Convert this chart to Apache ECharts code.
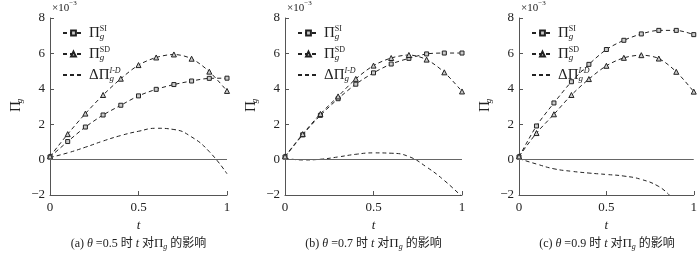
<!DOCTYPE html>
<html>
<head>
<meta charset="utf-8">
<script src="https://cdn.jsdelivr.net/npm/echarts@6/dist/echarts.min.js"></script>
<style>
html,body{margin:0;padding:0;background:#fff;}
#c{width:700px;height:255px;}
</style>
</head>
<body>
<div id="c"></div>
<script>
// ---- data (×10^-3) ----
var tVals = [0, 0.1, 0.2, 0.3, 0.4, 0.5, 0.6, 0.7, 0.8, 0.9, 1.0];
var tValsC = [0, 0.1, 0.2, 0.3, 0.4, 0.5, 0.6, 0.7, 0.8, 0.86];

var siA = [0.15, 1.02, 1.84, 2.52, 3.07, 3.60, 3.97, 4.24, 4.44, 4.59, 4.60];
var sdA = [0.18, 1.44, 2.60, 3.65, 4.57, 5.34, 5.77, 5.94, 5.70, 4.97, 3.88];
var dA  = [0.12, 0.38, 0.70, 1.05, 1.36, 1.60, 1.77, 1.70, 1.28, 0.45, -0.80];

var siB = [0.15, 1.40, 2.50, 3.44, 4.26, 4.90, 5.40, 5.72, 5.97, 6.02, 6.02];
var sdB = [0.18, 1.44, 2.58, 3.57, 4.56, 5.31, 5.74, 5.91, 5.65, 4.93, 3.85];
var dB  = [0.08, -0.02, 0.02, 0.15, 0.30, 0.38, 0.36, 0.17, -0.42, -1.18, -2.10];

var siC = [0.15, 1.90, 3.20, 4.40, 5.38, 6.22, 6.74, 7.10, 7.30, 7.30, 7.06];
var sdC = [0.18, 1.50, 2.56, 3.65, 4.55, 5.30, 5.75, 5.90, 5.71, 4.96, 3.84];
var dC  = [0.05, -0.25, -0.52, -0.66, -0.76, -0.84, -0.93, -1.12, -1.52, -2.00];

var yTicks = [-2, 0, 2, 4, 6, 8];
var xTicks = [0, 0.5, 1];
var thetas = ['0.5', '0.7', '0.9'];
var panelTags = ['(a)', '(b)', '(c)'];

// ---- layout ----
var SERIF = "'Liberation Serif','Times New Roman','Noto Sans CJK SC',serif";
var INK = '#222';
var AX = '#555';
var panels = [
  {left: 50, width: 177, si: siA, sd: sdA, d: dA, dt: tVals},
  {left: 285, width: 177, si: siB, sd: sdB, d: dB, dt: tVals},
  {left: 519, width: 176, si: siC, sd: sdC, d: dC, dt: tValsC}
];
var TOP = 18, H = 177;

function pairs(xs, ys) { return ys.map(function (v, i) { return [xs[i], v]; }); }

var rich = {
  pi: {fontFamily: SERIF, fontSize: 15, color: INK, lineHeight: 16},
  pil: {fontFamily: SERIF, fontSize: 15, color: INK, lineHeight: 16},
  sub: {fontFamily: SERIF, fontSize: 9, fontStyle: 'italic', color: INK, verticalAlign: 'bottom', lineHeight: 9, width: 0, align: 'left'},
  sup: {fontFamily: SERIF, fontSize: 8, color: INK, verticalAlign: 'top', lineHeight: 8},
  supi: {fontFamily: SERIF, fontSize: 8, fontStyle: 'italic', color: INK, verticalAlign: 'top', lineHeight: 8}
};

var legendLabels = {
  SI: '{pi|Π}{sub|g}{sup|SI}',
  SD: '{pi|Π}{sub|g}{sup|SD}',
  D: '{pil|ΔΠ}{sub|g}{supi|I-D}'
};

var grids = [], xAxes = [], yAxes = [], series = [], legends = [], graphics = [];

panels.forEach(function (p, k) {
  grids.push({left: p.left, top: TOP, width: p.width, height: H, containLabel: false});
  xAxes.push({
    type: 'value', gridIndex: k, min: 0, max: 1, interval: 0.5,
    axisLine: {onZero: false, lineStyle: {color: AX, width: 1}},
    axisTick: {inside: true, length: 4, lineStyle: {color: AX}},
    splitLine: {show: false},
    axisLabel: {fontFamily: SERIF, fontSize: 13, color: INK, margin: 6,
      formatter: function (v) { return String(v); }},
    name: 't', nameLocation: 'middle', nameGap: 18,
    nameTextStyle: {fontFamily: SERIF, fontSize: 13, fontStyle: 'italic', color: INK}
  });
  yAxes.push({
    type: 'value', gridIndex: k, min: -2, max: 8, interval: 2,
    axisLine: {show: true, onZero: false, lineStyle: {color: AX, width: 1}},
    axisTick: {show: true, inside: true, length: 4, lineStyle: {color: AX}},
    splitLine: {show: false},
    axisLabel: {fontFamily: SERIF, fontSize: 13, color: INK, margin: 5,
      formatter: function (v) { return v < 0 ? '\u2212' + Math.abs(v) : String(v); }},
    name: '{pi|Π}{sub|g}', nameLocation: 'middle', nameGap: 26, nameRotate: 90,
    nameTextStyle: {rich: rich}
  });
  var names = ['SI' + k, 'SD' + k, 'D' + k];
  var base = {type: 'line', xAxisIndex: k, yAxisIndex: k, smooth: 0.3, clip: true,
    lineStyle: {color: INK, width: 1, type: [4, 3]}, itemStyle: {color: '#ccc', borderColor: INK, borderWidth: 1},
    emphasis: {disabled: true}, animation: false};
  series.push(Object.assign({}, base, {name: names[0], data: pairs(tVals, p.si), symbol: 'rect', symbolSize: 4, z: 3,
    markLine: {silent: true, symbol: 'none', label: {show: false}, animation: false,
      lineStyle: {color: '#666', width: 1, type: 'solid'}, data: [{yAxis: 0}]}}));
  series.push(Object.assign({}, base, {name: names[1], data: pairs(tVals, p.sd), symbol: 'triangle', symbolSize: 5, z: 3}));
  series.push(Object.assign({}, base, {name: names[2], data: pairs(p.dt, p.d), symbol: 'none', showSymbol: false, smooth: 0.5}));
  legends.push({
    data: [{name: names[0]}, {name: names[1]}, {name: names[2], itemStyle: {opacity: 0}}],
    orient: 'vertical', left: p.left + 7, top: 20, itemWidth: 21, itemHeight: 6, itemGap: 5,
    selectedMode: false,
    formatter: function (n) { return legendLabels[n.replace(/\d/, '')]; },
    textStyle: {rich: rich}
  });
  graphics.push({
    type: 'text', left: p.left + 2, top: 0,
    style: {text: '{x|×10}{s|−3}', rich: {
      x: {fontFamily: SERIF, fontSize: 11, fill: INK, lineHeight: 14, verticalAlign: 'bottom'},
      s: {fontFamily: SERIF, fontSize: 7, fill: INK, verticalAlign: 'top', lineHeight: 8}
    }}
  });
  var cx = p.left + p.width / 2;
  graphics.push({
    type: 'text', x: cx, y: 244,
    style: {text: panelTags[k] + ' {i|θ} =' + thetas[k] + ' 时 {i|t} 对{p|Π}{g|g} 的影响',
      align: 'center', verticalAlign: 'middle',
      font: "12px " + SERIF, fill: INK,
      rich: {
        i: {fontFamily: SERIF, fontSize: 12, fontStyle: 'italic', fill: INK},
        p: {fontFamily: SERIF, fontSize: 13, fill: INK, lineHeight: 14},
        g: {fontFamily: SERIF, fontSize: 8, fontStyle: 'italic', fill: INK, verticalAlign: 'bottom', lineHeight: 8}
      }}
  });
});

var chart = echarts.init(document.getElementById('c'), null, {renderer: 'canvas'});
chart.setOption({
  animation: false,
  backgroundColor: '#fff',
  textStyle: {fontFamily: SERIF},
  grid: grids, xAxis: xAxes, yAxis: yAxes, series: series, legend: legends,
  graphic: graphics
});
</script>
</body>
</html>
